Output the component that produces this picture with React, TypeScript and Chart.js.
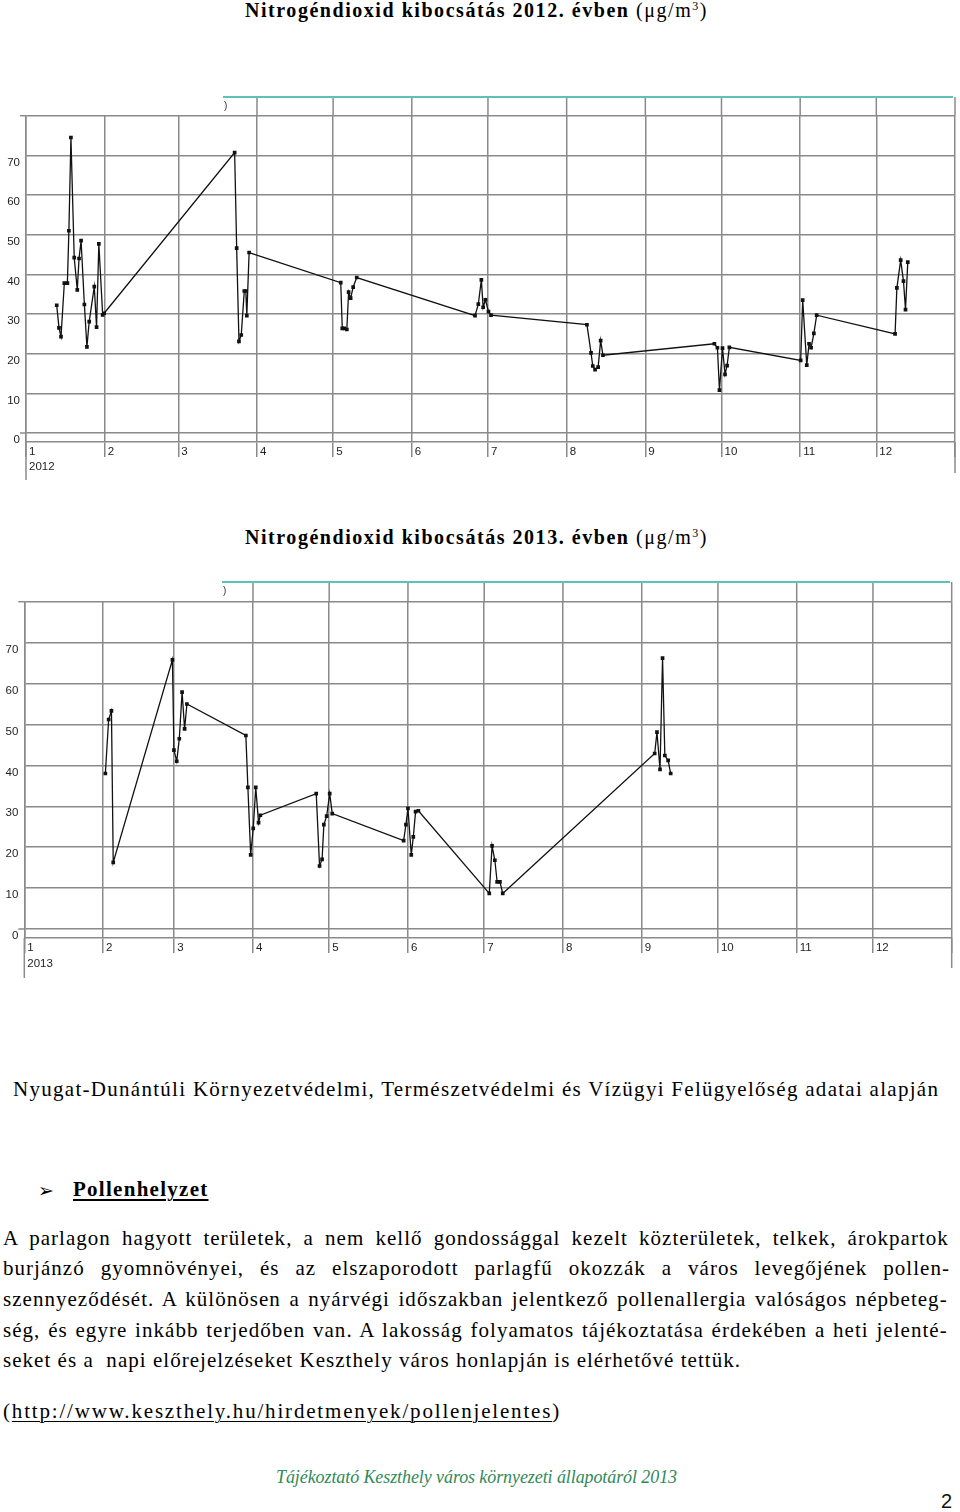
import React, { useEffect, useRef } from 'react';
import { Chart, registerables } from 'chart.js';

Chart.register(...registerables);

// ---------- data ----------
const monthLabels = ['1', '2', '3', '4', '5', '6', '7', '8', '9', '10', '11', '12'];
const monthStartDays2012 = [0, 31, 60, 91, 121, 152, 182, 213, 244, 274, 305, 335, 366];
const monthStartDays2013 = [0, 31, 59, 90, 120, 151, 181, 212, 243, 273, 304, 334, 365];
const yTickValues = [0, 10, 20, 30, 40, 50, 60, 70, 80];

// day of year (0 = 1 January) and NO2 value (µg/m3)
const days2012 = [
  12.1, 13.0, 13.8, 15.1, 16.3, 16.9, 17.7, 19.0, 20.2, 20.9, 21.7, 23.0, 24.0, 24.9, 26.9, 27.8, 28.7, 30.2, 30.8,
  82.2, 83.0, 83.9, 84.8, 86.0, 86.6, 87.0, 87.9,
  124.0, 124.6, 125.4, 126.4, 127.1, 127.9, 128.9, 130.3,
  176.9, 178.2, 179.4, 180.1, 181.0, 182.2, 183.2,
  221.0, 222.6, 223.3, 224.2, 225.4, 226.4, 227.3,
  271.2, 272.4, 273.2, 274.4, 275.4, 276.2, 277.1,
  305.2, 306.0, 307.6, 308.5, 309.3, 310.4, 311.5,
  342.4, 343.1, 344.6, 345.7, 346.5, 347.4,
];
const no2_2012 = [
  32.2, 26.5, 24.3, 37.8, 37.8, 51.0, 74.5, 44.2, 36.1, 44.0, 48.5, 32.4, 21.7, 28.1, 36.9, 26.7, 47.7, 29.8, 30.2,
  70.7, 46.6, 23.1, 24.7, 35.8, 35.8, 29.6, 45.5,
  37.9, 26.4, 26.4, 26.1, 35.5, 34.0, 36.8, 39.2,
  29.6, 32.5, 38.6, 31.7, 33.6, 30.6, 29.7,
  27.3, 20.2, 16.9, 16.0, 16.6, 23.3, 19.6,
  22.5, 21.5, 10.8, 21.4, 14.8, 17.0, 21.6,
  18.3, 33.5, 17.1, 22.5, 21.5, 25.1, 29.7,
  25.0, 36.6, 43.6, 38.3, 31.1, 43.1,
];

const days2013 = [
  31.9, 33.2, 34.3, 35.0,
  58.3, 58.9, 60.0, 61.0, 62.1, 63.1, 64.0,
  87.2, 88.0, 89.1, 90.1, 91.1, 92.2, 92.9,
  114.9, 116.2, 117.2, 117.9, 119.0, 120.2, 121.2,
  149.3, 150.2, 151.0, 152.3, 153.1, 154.0, 155.1,
  183.0, 184.1, 185.2, 186.1, 187.2, 188.3,
  248.1, 249.0, 250.2, 251.2, 252.1, 253.4, 254.4,
];
const no2_2013 = [
  38.0, 51.2, 53.3, 16.3,
  65.8, 43.7, 41.0, 46.5, 57.9, 48.9, 55.0,
  47.3, 34.6, 18.1, 24.6, 34.6, 26.0, 27.8,
  33.1, 15.4, 17.0, 25.5, 27.6, 33.1, 28.2,
  21.6, 25.5, 29.5, 18.1, 22.5, 28.7, 28.9,
  8.7, 20.3, 16.8, 11.5, 11.5, 8.7,
  42.9, 48.1, 39.0, 66.2, 42.4, 41.2, 38.0,
];

const paragraphLines = [
  'A parlagon hagyott területek, a nem kellő gondossággal kezelt közterületek, telkek, árokpartok',
  'burjánzó gyomnövényei, és az elszaporodott parlagfű okozzák a város levegőjének pollen-',
  'szennyeződését. A különösen a nyárvégi időszakban jelentkező pollenallergia valóságos népbeteg-',
  'ség, és egyre inkább terjedőben van. A lakosság folyamatos tájékoztatása érdekében a heti jelenté-',
];
const paragraphLastLine = 'seket és a  napi előrejelzéseket Keszthely város honlapján is elérhetővé tettük.';

// ---------- styles ----------
const GRID = '#8a8a8a';
const LINE = '#111111';
const TEAL = '#5fc1b6';
const TICK = '#1e1e1e';
const SANS = "'Liberation Sans', Arial, sans-serif";
const SERIF = "'Liberation Serif', 'Times New Roman', serif";

let measureCtx: CanvasRenderingContext2D | null = null;
function textWidth(text: string, font: string): number {
  if (!measureCtx) measureCtx = document.createElement('canvas').getContext('2d');
  measureCtx!.font = font;
  return measureCtx!.measureText(text).width;
}
const charCount = (t: string) => Array.from(t).length;

type Geom = {
  top: number; height: number; padTop: number; padRight: number;
  yAxisWidth: number; xAxisHeight: number; yMin: number; xPad: number; xLH: number;
  tealStart: number; tealEnd: number; tealY: number; axisExt: number; rightExt: number;
};

function NO2Chart(props: { days: number[]; values: number[]; monthStarts: number[]; year: string; g: Geom }) {
  const ref = useRef<HTMLCanvasElement>(null);
  useEffect(() => {
    const { g, monthStarts } = props;
    const line = (ctx: CanvasRenderingContext2D, x1: number, y1: number, x2: number, y2: number) => {
      ctx.beginPath(); ctx.moveTo(x1, y1); ctx.lineTo(x2, y2); ctx.stroke();
    };
    const decor = {
      id: 'decor',
      afterDraw(chart: any) {
        const { ctx, chartArea, scales } = chart;
        const xs = scales.x, ys = scales.y;
        ctx.save();
        ctx.strokeStyle = GRID; ctx.lineWidth = 1.5;
        monthStarts.forEach((d) => {
          const px = xs.getPixelForValue(d);
          if (px > g.tealStart) line(ctx, px, g.tealY, px, chartArea.top);
        });
        line(ctx, chartArea.left, chartArea.bottom, chartArea.left, g.axisExt);
        line(ctx, chartArea.right, chartArea.bottom, chartArea.right, g.rightExt);
        [0, 80].forEach((v) => {
          const py = ys.getPixelForValue(v);
          line(ctx, chartArea.left - 6, py, chartArea.left, py);
        });
        ctx.strokeStyle = TEAL; ctx.lineWidth = 2;
        line(ctx, g.tealStart, g.tealY, g.tealEnd, g.tealY);
        ctx.fillStyle = '#333'; ctx.font = `10px ${SANS}`; ctx.textBaseline = 'alphabetic';
        ctx.fillText(')', g.tealStart + 1, g.tealY + 12);
        ctx.restore();
      },
    };
    const tickFont = { family: SANS, size: 11.5 };
    const chart = new Chart(ref.current!, {
      type: 'line',
      data: {
        datasets: [{
          data: props.days.map((d, i) => ({ x: d, y: props.values[i] })),
          borderColor: LINE, borderWidth: 1.3, tension: 0, fill: false,
          pointStyle: 'rect', pointRadius: 2.6, pointBackgroundColor: LINE,
          pointBorderColor: LINE, pointBorderWidth: 0,
        }],
      },
      options: {
        responsive: false, animation: false, devicePixelRatio: 1,
        layout: { padding: { top: g.padTop, right: g.padRight, left: 0, bottom: 0 } },
        plugins: { legend: { display: false }, tooltip: { enabled: false } },
        scales: {
          x: {
            type: 'linear', min: 0, max: monthStarts[monthStarts.length - 1],
            afterBuildTicks: (s: any) => { s.ticks = monthStarts.map((v) => ({ value: v })); },
            afterFit: (s: any) => { s.height = g.xAxisHeight; },
            grid: { color: GRID, lineWidth: 1.5, drawTicks: true, tickLength: 15, tickColor: GRID },
            border: { display: true, color: GRID, width: 1.5 },
            ticks: {
              autoSkip: false, maxRotation: 0, minRotation: 0, align: 'start', labelOffset: 3,
              padding: g.xPad, color: TICK, font: { ...tickFont, lineHeight: g.xLH / 11.5 },
              callback: (v: any, i: number) => (i === 0 ? ['1', props.year] : i < 12 ? monthLabels[i] : ''),
            },
          },
          y: {
            type: 'linear', min: g.yMin, max: 80,
            afterBuildTicks: (s: any) => { s.ticks = yTickValues.map((v) => ({ value: v })); },
            afterFit: (s: any) => { s.width = g.yAxisWidth; },
            grid: { color: GRID, lineWidth: 1.5, drawTicks: false },
            border: { display: true, color: GRID, width: 1.5 },
            ticks: {
              padding: 6, labelOffset: 7, color: TICK, font: tickFont,
              callback: (v: any) => (v === 80 ? '' : String(v)),
            },
          },
        },
      } as any,
      plugins: [decor as any],
    });
    return () => chart.destroy();
  }, []);
  return (
    <canvas
      ref={ref}
      width={960}
      height={props.g.height}
      style={{ position: 'absolute', left: 0, top: props.g.top, width: 960, height: props.g.height }}
    />
  );
}

// baseline offset for line-height == font-size
const BASE_SERIF = 0.8375;
const BASE_SANS = 0.8465;

function TextLine(p: {
  text: string; left: number; baseline: number; size: number; family?: string; weight?: string;
  italic?: boolean; color?: string; fit?: number; justify?: number; ls?: number; underline?: boolean; baseRatio?: number;
}) {
  const family = p.family || SERIF;
  const weight = p.weight || 'normal';
  const style = p.italic ? 'italic' : 'normal';
  const font = `${style} ${weight} ${p.size}px ${family}`;
  const natural = textWidth(p.text, font);
  const n = charCount(p.text);
  let ls = p.ls || 0;
  let ws = 0;
  if (p.fit) ls = (p.fit - natural) / n;
  if (p.justify) {
    const spaces = p.text.split(' ').length - 1;
    ws = spaces > 0 ? (p.justify - natural - n * ls) / spaces : 0;
  }
  return (
    <div
      style={{
        position: 'absolute', left: p.left, top: p.baseline - (p.baseRatio ?? BASE_SERIF) * p.size,
        font, lineHeight: `${p.size}px`, whiteSpace: 'pre', color: p.color || '#000',
        letterSpacing: `${ls}px`, wordSpacing: `${ws}px`,
        textDecoration: p.underline ? 'underline' : 'none', textUnderlineOffset: '3px', textDecorationThickness: '1.5px',
      }}
    >
      {p.text}
    </div>
  );
}

function Title(p: { year: string; baseline: number }) {
  const size = 20;
  const supSize = 12;
  const bold = `Nitrogéndioxid kibocsátás ${p.year}. évben`;
  const reg1 = ' (μg/m';
  const sup = '3';
  const reg2 = ')';
  const fb = `normal bold ${size}px ${SERIF}`;
  const fr = `normal normal ${size}px ${SERIF}`;
  const fs = `normal normal ${supSize}px ${SERIF}`;
  const natural = textWidth(bold, fb) + textWidth(reg1 + reg2, fr) + textWidth(sup, fs);
  const n = charCount(bold + reg1 + sup + reg2);
  const ls = (463 - natural) / n;
  return (
    <div
      style={{
        position: 'absolute', left: 245, top: p.baseline - BASE_SERIF * size, whiteSpace: 'pre',
        fontFamily: SERIF, fontSize: size, lineHeight: `${size}px`, letterSpacing: `${ls}px`, color: '#000',
      }}
    >
      <span style={{ fontWeight: 'bold' }}>{bold}</span>
      <span>{reg1}</span>
      <span style={{ fontSize: supSize, position: 'relative', top: -7 }}>{sup}</span>
      <span>{reg2}</span>
    </div>
  );
}

function UrlLine(p: { size: number }) {
  const size = p.size;
  const url = 'http://www.keszthely.hu/hirdetmenyek/pollenjelentes';
  const font = `normal normal ${size}px ${SERIF}`;
  const natural = textWidth('(' + url + ')', font);
  const n = charCount('(' + url + ')');
  const ls = (558 - natural) / n;
  return (
    <div
      style={{
        position: 'absolute', left: 3, top: 1418.3 - BASE_SERIF * size, whiteSpace: 'pre', font,
        lineHeight: `${size}px`, letterSpacing: `${ls}px`, color: '#000',
      }}
    >
      (
      <span style={{ textDecoration: 'underline', textUnderlineOffset: '3px', textDecorationThickness: '1.2px' }}>{url}</span>)
    </div>
  );
}

const geom2012: Geom = {
  top: 90, height: 400, padTop: 25.7, padRight: 5, yAxisWidth: 26, xAxisHeight: 48, yMin: -2.27,
  xPad: -12.5, xLH: 15, tealStart: 223, tealEnd: 953, tealY: 7, axisExt: 390, rightExt: 383,
};
const geom2013: Geom = {
  top: 575, height: 405, padTop: 26.7, padRight: 8.3, yAxisWidth: 24.3, xAxisHeight: 42, yMin: -2.2,
  xPad: -13, xLH: 16, tealStart: 222, tealEnd: 950, tealY: 7, axisExt: 403, rightExt: 393,
};

export default function App() {
  const pSize = 21;
  const lastFont = `normal normal ${pSize}px ${SERIF}`;
  const paraLs = (738 - textWidth(paragraphLastLine, lastFont)) / charCount(paragraphLastLine);
  const baselines = [1245.7, 1276, 1307, 1337.3];
  return (
    <div style={{ position: 'absolute', left: 0, top: 0, width: 960, height: 1512, background: '#fff', overflow: 'hidden' }}>
      <Title year="2012" baseline={16.5} />
      <NO2Chart days={days2012} values={no2_2012} monthStarts={monthStartDays2012} year="2012" g={geom2012} />
      <Title year="2013" baseline={543.5} />
      <NO2Chart days={days2013} values={no2_2013} monthStarts={monthStartDays2013} year="2013" g={geom2013} />

      <TextLine
        text="Nyugat-Dunántúli Környezetvédelmi, Természetvédelmi és Vízügyi Felügyelőség adatai alapján"
        left={13} baseline={1096.5} size={21} fit={927}
      />
      <TextLine text="➢" left={38} baseline={1197} size={19} family="'DejaVu Sans', sans-serif" baseRatio={0.85} />
      <TextLine text="Pollenhelyzet" left={73} baseline={1196.7} size={21} weight="bold" fit={135.5} underline />

      {paragraphLines.map((t, i) => (
        <TextLine key={i} text={t} left={3} baseline={baselines[i]} size={pSize} ls={paraLs} justify={947} />
      ))}
      <TextLine text={paragraphLastLine} left={3} baseline={1367.7} size={pSize} ls={paraLs} />
      <UrlLine size={pSize} />

      <TextLine
        text="Tájékoztató Keszthely város környezeti állapotáról 2013"
        left={276} baseline={1483.5} size={18} italic color="#2f8a58" fit={401}
      />
      <TextLine text="2" left={941} baseline={1508} size={20} family={SANS} baseRatio={BASE_SANS} color="#111" />
    </div>
  );
}
